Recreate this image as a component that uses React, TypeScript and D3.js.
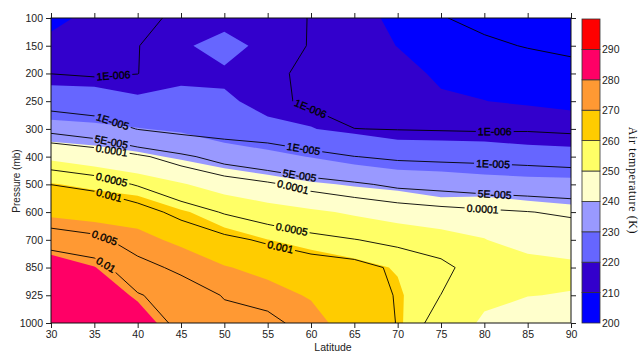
import * as d3 from "d3";
import React, { useEffect, useRef } from "react";

const latitudes = [30, 35, 40, 45, 50, 55, 60, 65, 70, 75, 80, 85, 90];
const pressureLevels = [100, 150, 200, 250, 300, 400, 500, 600, 700, 850, 925, 1000];

const tempThresholds = [200, 210, 220, 230, 240, 250, 260, 270, 280, 290];
const tempColors = ["#0000FF", "#3300CC", "#6666FF", "#9999FF", "#FFFFCC", "#FFFF66", "#FFCC00", "#FF9933", "#FF0066", "#FF0000"];
const colorbarTicks = [200, 210, 220, 230, 240, 250, 260, 270, 280, 290];

const humidityLevels = [1e-6, 1e-5, 5e-5, 1e-4, 5e-4, 1e-3, 5e-3, 1e-2];
const humidityLabels = ["1E-006", "1E-005", "5E-005", "0.0001", "0.0005", "0.001", "0.005", "0.01"];

// air temperature (K): one row per pressure level, one column per latitude
const airTemp = [
  [207, 213, 214, 216.5, 217.5, 215.5, 214, 212, 208.7, 206, 205, 205, 204],
  [213, 215.5, 216.5, 219, 222.5, 218, 215, 214, 209.8, 207, 206, 206, 205],
  [217, 216.5, 217.5, 218.5, 219, 217, 216, 216, 213, 208.5, 207.5, 207, 206.5],
  [224.1, 223.8, 220.75, 221.9, 220.8, 218.5, 218, 217.5, 216, 211.2, 210.1, 209, 208.5],
  [232.9, 231.75, 230.4, 228.7, 224.4, 221.2, 220.2, 218.7, 218.5, 217.4, 216.8, 215.3, 213],
  [248.3, 245.5, 242.1, 238.7, 235.6, 232.9, 229.6, 226.3, 222.35, 223.6, 223.8, 223.5, 223.9],
  [260.5, 258.1, 255.05, 250.7, 246.2, 243.8, 241.1, 239.2, 238.6, 235.5, 233.4, 232.5, 231.9],
  [268.6, 267.6, 267.1, 260.9, 256.5, 253.2, 251.1, 249.1, 244.7, 245.2, 248.4, 245.2, 243],
  [276.1, 274.3, 271.9, 268.6, 262.75, 260.1, 257.6, 255.9, 258, 253, 250.1, 248.5, 247.5],
  [283.4, 280.2, 275.5, 274, 270.55, 267.6, 264.3, 262, 259.5, 255, 252, 251.5, 251],
  [286, 283, 279.3, 276.5, 274, 273, 269.2, 264, 261, 254, 251, 250.1, 249.8],
  [288, 285, 282.4, 277, 277, 276, 273.5, 265, 261, 253, 249.3, 248, 248.5],
];

// log10 of specific humidity (kg/kg), same layout
const logSpecHum = [
  [-6.25, -6.25, -6.2, -5.85, -5.8, -5.8, -6.02, -6.08, -6.1, -6.03, -5.85, -5.8, -5.75],
  [-6.15, -6.18, -6.02, -5.6, -5.5, -5.75, -6.03, -6.15, -6.3, -6.2, -6.1, -5.97, -5.9],
  [-6.01, -6.08, -6.01, -5.6, -5.6, -5.85, -6.15, -6.3, -6.45, -6.4, -6.35, -6.3, -6.15],
  [-5.31, -5.43, -5.53, -5.45, -5.55, -5.75, -6.18, -6.5, -6.6, -6.6, -6.5, -6.45, -6.4],
  [-4.44, -4.62, -5.02, -5.2, -5.3, -5.35, -5.52, -5.99, -6.03, -6.06, -6.09, -6.08, -6.15],
  [-3.57, -3.7, -3.92, -4.2, -4.49, -4.66, -4.84, -4.99, -5.1, -5.14, -5.17, -5.22, -5.28],
  [-3.005, -3.115, -3.33, -3.6, -3.79, -3.94, -4.12, -4.24, -4.38, -4.43, -4.49, -4.53, -4.57],
  [-2.55, -2.65, -2.84, -3.11, -3.33, -3.5, -3.64, -3.73, -3.81, -3.89, -3.94, -3.99, -4.05],
  [-2.12, -2.21, -2.46, -2.73, -2.92, -3.05, -3.19, -3.29, -3.39, -3.54, -3.7, -3.7, -3.8],
  [-1.8, -1.89, -2.19, -2.37, -2.6, -2.74, -2.82, -2.88, -3.06, -3.19, -3.53, -3.55, -3.65],
  [-1.7, -1.78, -1.98, -2.12, -2.32, -2.45, -2.62, -2.75, -3.03, -3.305, -3.45, -3.48, -3.58],
  [-1.62, -1.68, -1.9, -2.04, -2.2, -2.19, -2.465, -2.62, -3.02, -3.47, -3.4, -3.43, -3.52],
];

// where the line labels sit: [level index, latitude, pressure row]
const labelSpots = [
  [0, 37.2, 2.08], [0, 59.9, 3.3], [0, 81.2, 4.1],
  [1, 37, 3.85], [1, 59.1, 4.79], [1, 81, 5.25],
  [2, 37, 4.42], [2, 58.7, 5.65], [2, 81.2, 6.26],
  [3, 37, 4.79], [3, 57.9, 6.12], [3, 79.8, 6.91],
  [4, 37, 5.83], [4, 57.8, 7.6],
  [5, 36.7, 6.41], [5, 56.5, 8.21],
  [6, 36, 8.1],
  [7, 36, 9.08],
];

const W = 639;
const H = 353;
const margin = { top: 18, right: 68, bottom: 30, left: 51 };
const sans = "'Liberation Sans', Arial, sans-serif";

export default function App() {
  const svgRef = useRef<SVGSVGElement>(null);

  useEffect(() => {
    if (!svgRef.current) return;
    const svg = d3.select(svgRef.current);
    svg.selectAll("*").remove();

    const x0 = margin.left;
    const x1 = W - margin.right;
    const y0 = margin.top;
    const y1 = H - margin.bottom;
    const nx = latitudes.length;
    const ny = pressureLevels.length;

    const xScale = d3.scaleLinear([latitudes[0], latitudes[nx - 1]], [x0, x1]);
    const yScale = d3.scalePoint(pressureLevels.map(String), [y0, y1]);
    const colX = d3.scaleLinear([0, nx - 1], [x0, x1]);
    const rowY = d3.scaleLinear([0, ny - 1], [y0, y1]);
    // d3.contours puts grid value i at coordinate i + 0.5
    const gx = (c: number) => colX(c - 0.5);
    const gy = (c: number) => rowY(c - 0.5);

    const defs = svg.append("defs");
    defs
      .append("clipPath")
      .attr("id", "plot-clip")
      .append("rect")
      .attr("x", x0)
      .attr("y", y0)
      .attr("width", x1 - x0)
      .attr("height", y1 - y0);
    const mask = defs
      .append("mask")
      .attr("id", "label-mask")
      .attr("maskUnits", "userSpaceOnUse")
      .attr("x", 0)
      .attr("y", 0)
      .attr("width", W)
      .attr("height", H);
    mask.append("rect").attr("width", W).attr("height", H).attr("fill", "white");

    const proj = d3.geoTransform({
      point(x: number, y: number) {
        this.stream.point(gx(x), gy(y));
      },
    });
    const geo = d3.geoPath(proj);

    const plot = svg.append("g").attr("clip-path", "url(#plot-clip)");

    // filled temperature bands
    const tContours = d3.contours().size([nx, ny]).thresholds(tempThresholds)(airTemp.flat());
    plot
      .append("g")
      .selectAll("path")
      .data(tContours)
      .join("path")
      .attr("d", (d: any) => geo(d))
      .attr("fill", (_: any, i: number) => tempColors[i]);

    // humidity lines
    const qContours = d3
      .contours()
      .size([nx, ny])
      .thresholds(humidityLevels.map(Math.log10))(logSpecHum.flat());
    const rings = qContours.map((c: any) =>
      c.coordinates.flatMap((poly: number[][][]) =>
        poly.map((ring) => ring.map(([cx, cy]) => [gx(cx), gy(cy)] as [number, number]))
      )
    );
    const line = d3.line();
    plot
      .append("g")
      .attr("mask", "url(#label-mask)")
      .selectAll("path")
      .data(rings)
      .join("path")
      .attr("d", (rs: [number, number][][]) => rs.map((r) => line(r)).join(""))
      .attr("fill", "none")
      .attr("stroke", "#000")
      .attr("stroke-width", 0.9);

    // line labels
    const lbl = svg
      .append("g")
      .attr("font-family", sans)
      .attr("font-size", 10.5)
      .attr("fill", "#000")
      .attr("stroke", "#000")
      .attr("stroke-width", 0.35);
    labelSpots.forEach(([k, lat, row]) => {
      const tx = xScale(lat);
      const ty = rowY(row);
      let best = { d: Infinity, x: tx, y: ty, a: 0 };
      rings[k].forEach((r: [number, number][]) => {
        for (let i = 0; i < r.length - 1; i++) {
          const [ax, ay] = r[i];
          const [bx, by] = r[i + 1];
          const dx = bx - ax;
          const dy = by - ay;
          const len2 = dx * dx + dy * dy;
          if (len2 === 0) continue;
          const t = Math.max(0, Math.min(1, ((tx - ax) * dx + (ty - ay) * dy) / len2));
          const px = ax + t * dx;
          const py = ay + t * dy;
          const d = Math.hypot(px - tx, py - ty);
          if (d < best.d) best = { d, x: px, y: py, a: (Math.atan2(dy, dx) * 180) / Math.PI };
        }
      });
      let a = best.a;
      if (a > 90) a -= 180;
      if (a < -90) a += 180;
      const tr = `translate(${best.x},${best.y}) rotate(${a})`;
      const text = lbl
        .append("text")
        .attr("transform", tr)
        .attr("text-anchor", "middle")
        .attr("dy", "0.35em")
        .text(humidityLabels[k]);
      const w = (text.node() as SVGTextElement).getComputedTextLength();
      mask
        .append("rect")
        .attr("transform", tr)
        .attr("x", -w / 2 - 2)
        .attr("y", -5)
        .attr("width", w + 4)
        .attr("height", 10)
        .attr("fill", "black");
    });

    // axes
    const styleAxis = (g: any) => {
      g.select(".domain").remove();
      g.selectAll("text").attr("font-family", sans).attr("font-size", 10.5).attr("fill", "#222");
      g.selectAll("line").attr("stroke", "#222");
    };
    svg
      .append("g")
      .attr("transform", `translate(0,${y1})`)
      .call(d3.axisBottom(xScale).tickValues(latitudes).tickSize(5).tickPadding(3))
      .call(styleAxis);
    svg
      .append("g")
      .attr("transform", `translate(0,${y0})`)
      .call(d3.axisTop(xScale).tickValues(latitudes).tickSize(5).tickFormat(() => ""))
      .call(styleAxis);
    svg
      .append("g")
      .attr("transform", `translate(${x0},0)`)
      .call(d3.axisLeft(yScale).tickSize(5).tickPadding(3))
      .call(styleAxis);
    svg
      .append("g")
      .attr("transform", `translate(${x1},0)`)
      .call(d3.axisRight(yScale).tickSize(5).tickFormat(() => ""))
      .call(styleAxis);
    svg
      .append("rect")
      .attr("x", x0)
      .attr("y", y0)
      .attr("width", x1 - x0)
      .attr("height", y1 - y0)
      .attr("fill", "none")
      .attr("stroke", "#111")
      .attr("stroke-width", 1);

    svg
      .append("text")
      .attr("x", 333)
      .attr("y", 351)
      .attr("text-anchor", "middle")
      .attr("font-family", sans)
      .attr("font-size", 10.5)
      .attr("fill", "#222")
      .text("Latitude");
    svg
      .append("text")
      .attr("transform", "translate(16,181) rotate(-90)")
      .attr("text-anchor", "middle")
      .attr("dy", "0.35em")
      .attr("font-family", sans)
      .attr("font-size", 10)
      .attr("fill", "#222")
      .text("Pressure (mb)");

    // colour bar
    const cbX = 582;
    const cbW = 18;
    const cbY = d3.scaleLinear([200, 300], [y1, y0 + 1]);
    const cb = svg.append("g");
    tempThresholds.forEach((t, i) => {
      cb.append("rect")
        .attr("x", cbX)
        .attr("y", cbY(t + 10))
        .attr("width", cbW)
        .attr("height", cbY(t) - cbY(t + 10))
        .attr("fill", tempColors[i])
        .attr("stroke", "#333")
        .attr("stroke-width", 0.8);
    });
    colorbarTicks.forEach((v) => {
      cb.append("text")
        .attr("x", cbX + cbW + 2)
        .attr("y", cbY(v) + 4)
        .attr("font-family", sans)
        .attr("font-size", 10.5)
        .attr("fill", "#222")
        .text(v);
    });
    svg
      .append("text")
      .attr("transform", `translate(633,${(y0 + y1) / 2 + 10}) rotate(90)`)
      .attr("text-anchor", "middle")
      .attr("dy", "0.35em")
      .attr("font-family", "'Liberation Serif', 'Times New Roman', serif")
      .attr("font-size", 12)
      .attr("letter-spacing", 0.6)
      .attr("fill", "#111")
      .text("Air temperature (K)");
  }, []);

  return (
    <svg
      ref={svgRef}
      width={W}
      height={H}
      style={{ position: "absolute", left: 0, top: 0, background: "#fff" }}
    />
  );
}
